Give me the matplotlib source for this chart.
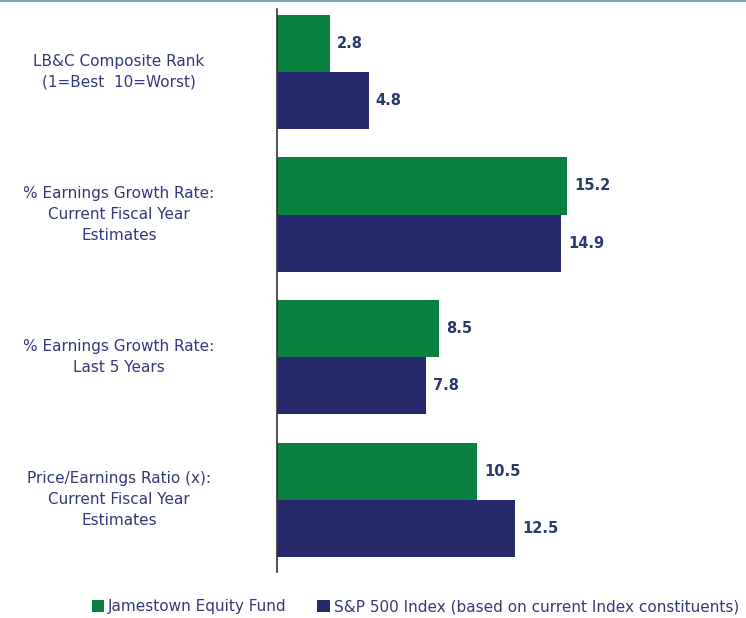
import matplotlib.pyplot as plt
from matplotlib.lines import Line2D
import numpy as np

categories = ['LB&C Composite Rank\n(1=Best  10=Worst)',
              '% Earnings Growth Rate:\nCurrent Fiscal Year\nEstimates',
              '% Earnings Growth Rate:\nLast 5 Years',
              'Price/Earnings Ratio (x):\nCurrent Fiscal Year\nEstimates']
fund = [2.8, 15.2, 8.5, 10.5]
index = [4.8, 14.9, 7.8, 12.5]
fund_name = 'Jamestown Equity Fund'
index_name = 'S&P 500 Index (based on current Index constituents)'

green = '#0A8040'
navy = '#262A6C'
text_col = '#33397A'
val_col = '#2A3A6B'

plt.rcParams['font.family'] = 'DejaVu Sans'

fig = plt.figure(figsize=(7.46, 6.18), dpi=100)
ax = fig.add_axes([277 / 746, 1 - 572 / 618, 0.62, 563 / 618])
px = 0.62 * 746 / 24.25  # pixels per unit

y = np.arange(len(categories))
h = 0.4
b1 = ax.barh(y - h / 2, fund, height=h, color=green, label=fund_name)
b2 = ax.barh(y + h / 2, index, height=h, color=navy, label=index_name)

for bars in (b1, b2):
    for r in bars:
        ax.annotate(f'{r.get_width():.1f}', (r.get_width(), r.get_y() + r.get_height() / 2),
                    xytext=(5, 0), textcoords='offset points', va='center', ha='left',
                    fontsize=10.5, fontweight='semibold', color=val_col)

ax.set_ylim(3.505, -0.44)
ax.set_xlim(0, 24.25)
for s in ['top', 'right', 'bottom']:
    ax.spines[s].set_visible(False)
ax.spines['left'].set_color('#333333')
ax.spines['left'].set_linewidth(1.2)
ax.set_xticks([])
ax.set_yticks([])

for i, c in enumerate(categories):
    ax.text(-158 / px, y[i], c, ha='center', va='center', multialignment='center',
            fontsize=11, color=text_col, linespacing=1.5)

fig.add_artist(Line2D([0, 1], [1 - 1 / 618, 1 - 1 / 618], color='#7BA7C4', lw=1.5))

fig.legend(handles=[b1, b2], loc='center', bbox_to_anchor=(0.557, 1 - 607 / 618), ncol=2,
           frameon=False, fontsize=11, handlelength=0.8, handleheight=0.8,
           handletextpad=0.3, columnspacing=2.0, labelcolor=text_col)

fig.savefig('out.png', dpi=100)
